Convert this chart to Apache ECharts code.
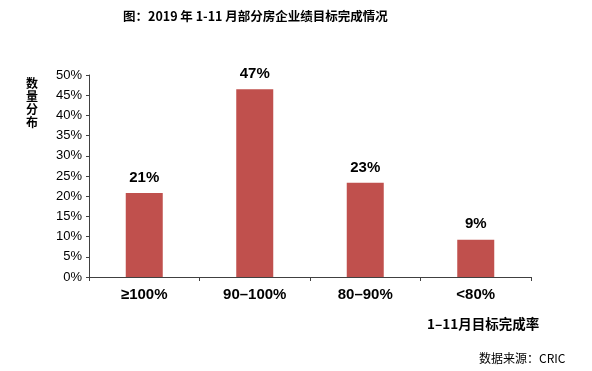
<!DOCTYPE html>
<html><head><meta charset="utf-8">
<script src="https://cdn.jsdelivr.net/npm/echarts@6/dist/echarts.min.js"></script>
<style>html,body{margin:0;padding:0;background:#fff}#c{width:592px;height:371px}</style>
</head><body><div id="c"></div>
<script>
const categories = ['≥100%', '90–100%', '80–90%', '<80%'];
const values = [20.8, 46.5, 23.3, 9.2];
const labels = ['21%', '47%', '23%', '9%'];
const yTicks = [0, 5, 10, 15, 20, 25, 30, 35, 40, 45, 50];

const chart = echarts.init(document.getElementById('c'), null, {renderer: 'canvas'});
const axisColor = '#404040';
chart.setOption({
  animation: false,
  backgroundColor: '#fff',
  title: [
    {text: '图：2019 年 1-11 月部分房企业绩目标完成情况', left: 118, top: 5,
     textStyle: {fontSize: 12.5, fontWeight: 'bold', color: '#000', fontFamily: 'Noto Sans CJK SC'}},
    {text: '数\n量\n分\n布', left: 21, top: 72,
     textStyle: {fontSize: 12, fontWeight: 'bold', color: '#000', lineHeight: 13, fontFamily: 'Noto Sans CJK SC'}},
    {text: '1–11月目标完成率', left: 422, top: 312,
     textStyle: {fontSize: 13.5, fontWeight: 'bold', color: '#000', fontFamily: 'Noto Sans CJK SC'}},
    {text: '数据来源：CRIC', left: 474, top: 347,
     textStyle: {fontSize: 12, fontWeight: 'normal', color: '#000', fontFamily: 'Noto Sans CJK SC'}}
  ],
  grid: {left: 89, right: 61, top: 75, bottom: 94, containLabel: false},
  xAxis: {
    type: 'category', data: categories,
    axisLine: {lineStyle: {color: axisColor, width: 1}},
    axisTick: {show: true, length: 4, lineStyle: {color: axisColor}},
    axisLabel: {margin: 10, fontSize: 15, fontWeight: 'bold', color: '#000', fontFamily: 'Liberation Sans'}
  },
  yAxis: {
    type: 'value', min: 0, max: 50, interval: 5,
    splitLine: {show: false},
    axisLine: {show: true, lineStyle: {color: axisColor, width: 1}},
    axisTick: {show: true, length: 3, lineStyle: {color: axisColor}},
    axisLabel: {margin: 7, fontSize: 13, color: '#000', fontFamily: 'Liberation Sans',
      formatter: v => yTicks.includes(v) ? v + '%' : ''}
  },
  series: [{
    type: 'bar', data: values, barWidth: 37,
    itemStyle: {color: '#C0504D'},
    label: {show: true, position: 'top', distance: 8, fontSize: 15, fontWeight: 'bold', color: '#000',
      fontFamily: 'Liberation Sans', formatter: p => labels[p.dataIndex]}
  }]
});
</script></body></html>
